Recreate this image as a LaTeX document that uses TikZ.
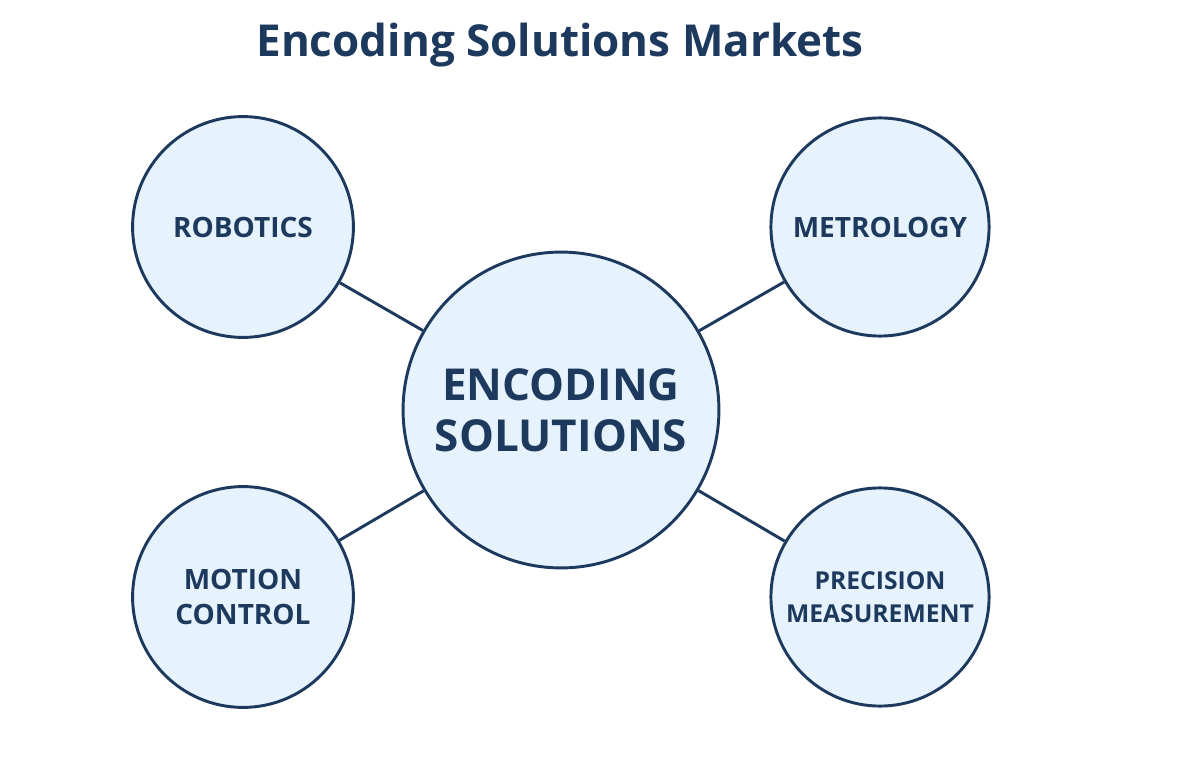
\documentclass[tikz,border=0pt]{standalone}
\usepackage{fontspec}
\setmainfont{Open Sans}
\definecolor{navy}{HTML}{1D3A5E}
\definecolor{fillb}{HTML}{E6F3FC}
\begin{document}
\begin{tikzpicture}[x=0.75pt,y=-0.75pt,
  bub/.style={circle,draw=navy,line width=2.2pt,fill=fillb,text=navy,font=\bfseries,align=center,inner sep=0pt},
  link/.style={draw=navy,line width=2.2pt}]
\useasboundingbox (0,0) rectangle (1200,777);
\fill[white] (0,0) rectangle (1200,777);
\node[text=navy,font=\fontsize{33}{40}\selectfont\bfseries] (title) at (560,45) {Encoding Solutions Markets};
\node[bub,minimum size=236bp,font=\fontsize{33}{38}\selectfont\bfseries] (c) at (561,410) {ENCODING\\SOLUTIONS};
\node[bub,minimum size=165bp,font=\fontsize{21}{26}\selectfont\bfseries] (r) at (243,227) {ROBOTICS};
\node[bub,minimum size=163bp,font=\fontsize{21}{26}\selectfont\bfseries] (m) at (880,227) {METROLOGY};
\node[bub,minimum size=165bp,font=\fontsize{21}{26}\selectfont\bfseries] (mc) at (243,597) {MOTION\\CONTROL};
\node[bub,minimum size=163bp,font=\fontsize{18.5}{25}\selectfont\bfseries] (p) at (880,597) {PRECISION\\MEASUREMENT};
\begin{scope}[on background layer/.try]
\end{scope}
\draw[link] (r) -- (c);
\draw[link] (m) -- (c);
\draw[link] (mc) -- (c);
\draw[link] (p) -- (c);
\end{tikzpicture}
\end{document}
